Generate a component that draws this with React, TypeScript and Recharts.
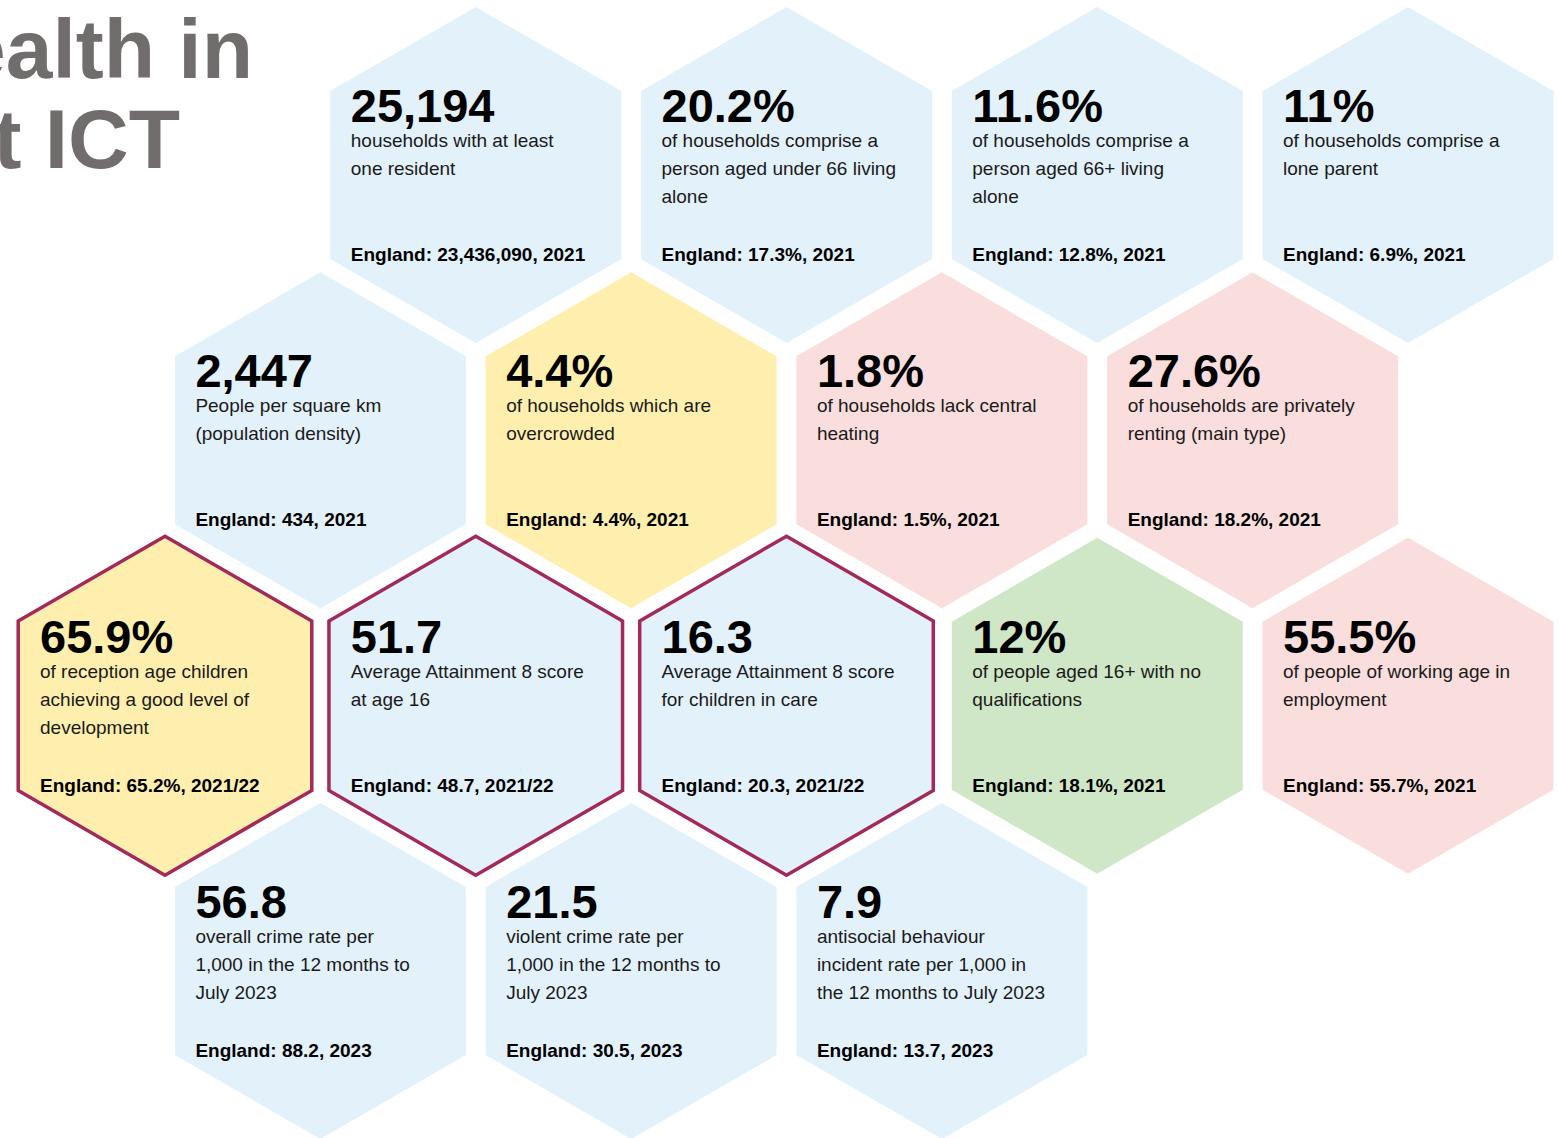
import { ScatterChart, Scatter, XAxis, YAxis, Customized } from 'recharts';

// headline figures, read row by row
const values = [
  '25,194', '20.2%', '11.6%', '11%',
  '2,447', '4.4%', '1.8%', '27.6%',
  '65.9%', '51.7', '16.3', '12%', '55.5%',
  '56.8', '21.5', '7.9',
];

const descriptions = [
  ['households with at least', 'one resident'],
  ['of households comprise a', 'person aged under 66 living', 'alone'],
  ['of households comprise a', 'person aged 66+ living', 'alone'],
  ['of households comprise a', 'lone parent'],
  ['People per square km', '(population density)'],
  ['of households which are', 'overcrowded'],
  ['of households lack central', 'heating'],
  ['of households are privately', 'renting (main type)'],
  ['of reception age children', 'achieving a good level of', 'development'],
  ['Average Attainment 8 score', 'at age 16'],
  ['Average Attainment 8 score', 'for children in care'],
  ['of people aged 16+ with no', 'qualifications'],
  ['of people of working age in', 'employment'],
  ['overall crime rate per', '1,000 in the 12 months to', 'July 2023'],
  ['violent crime rate per', '1,000 in the 12 months to', 'July 2023'],
  ['antisocial behaviour', 'incident rate per 1,000 in', 'the 12 months to July 2023'],
];

const englandLabels = [
  'England: 23,436,090, 2021', 'England: 17.3%, 2021', 'England: 12.8%, 2021', 'England: 6.9%, 2021',
  'England: 434, 2021', 'England: 4.4%, 2021', 'England: 1.5%, 2021', 'England: 18.2%, 2021',
  'England: 65.2%, 2021/22', 'England: 48.7, 2021/22', 'England: 20.3, 2021/22', 'England: 18.1%, 2021', 'England: 55.7%, 2021',
  'England: 88.2, 2023', 'England: 30.5, 2023', 'England: 13.7, 2023',
];

// comparison with England
const comparisons = [
  'none', 'none', 'none', 'none',
  'none', 'similar', 'worse', 'worse',
  'similar', 'none', 'none', 'better', 'worse',
  'none', 'none', 'none',
];

// education indicators carry the outline
const highlighted = [
  false, false, false, false,
  false, false, false, false,
  true, true, true, false, false,
  false, false, false,
];

// honeycomb slot: half-column and row
const slotCols = [2, 4, 6, 8, 1, 3, 5, 7, 0, 2, 4, 6, 8, 1, 3, 5];
const slotRows = [0, 0, 0, 0, 1, 1, 1, 1, 2, 2, 2, 2, 2, 3, 3, 3];

const fills: Record<string, string> = {
  none: '#e3f1fa',
  similar: '#ffefae',
  worse: '#f9dedd',
  better: '#cfe7c6',
};

const FONT = '"Liberation Sans", Arial, sans-serif';
const R = 168;

const data = values.map((v, i) => ({
  col: slotCols[i],
  row: slotRows[i],
  value: v,
  lines: descriptions[i],
  england: englandLabels[i],
  comparison: comparisons[i],
  outline: highlighted[i],
}));

const hexPoints = (cx: number, cy: number, r: number) =>
  [0, 1, 2, 3, 4, 5]
    .map((k) => {
      const a = ((-90 + 60 * k) * Math.PI) / 180;
      return `${cx + r * Math.cos(a)},${cy + r * Math.sin(a)}`;
    })
    .join(' ');

const HexCell = (props: any) => {
  const { cx, cy, payload } = props;
  if (cx == null || cy == null) return null;
  const x = cx - 125;
  return (
    <g>
      <polygon
        points={hexPoints(cx, cy, payload.outline ? R + 1.5 : R)}
        fill={fills[payload.comparison]}
        stroke={payload.outline ? '#a3295a' : 'none'}
        strokeWidth={payload.outline ? 3.5 : 0}
      />
      <text x={x} y={cy - 53} fontFamily={FONT} fontSize={47} fontWeight="bold" fill="#000">
        {payload.value}
      </text>
      {payload.lines.map((line: string, i: number) => (
        <text key={i} x={x} y={cy - 28 + i * 28} fontFamily={FONT} fontSize={19} fill="#1a1a1a">
          {line}
        </text>
      ))}
      <text x={x} y={cy + 86} fontFamily={FONT} fontSize={19} fontWeight="bold" fill="#000">
        {payload.england}
      </text>
    </g>
  );
};

const Title = () => (
  <g>
    <text x={253} y={78} textAnchor="end" fontFamily={FONT} fontSize={84} fontWeight="bold" fill="#716d6d">
      Health in
    </text>
    <text x={180} y={168} textAnchor="end" fontFamily={FONT} fontSize={84} fontWeight="bold" fill="#716d6d">
      t ICT
    </text>
  </g>
);

export default function App() {
  return (
    <div style={{ position: 'absolute', left: 0, top: 0, width: 1559, height: 1138, background: '#fff' }}>
      <ScatterChart width={1559} height={1138} margin={{ top: 175, right: 151, bottom: 167, left: 165 }}>
        <XAxis type="number" dataKey="col" domain={[0, 8]} hide />
        <YAxis type="number" dataKey="row" domain={[0, 3]} reversed hide />
        <Customized component={Title} />
        <Scatter data={data} shape={<HexCell />} isAnimationActive={false} />
      </ScatterChart>
    </div>
  );
}
